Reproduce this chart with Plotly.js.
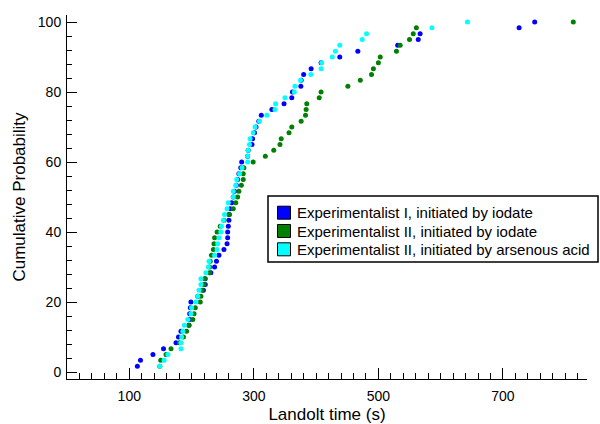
<!DOCTYPE html>
<html>
<head>
<meta charset="utf-8">
<script src="https://cdn.plot.ly/plotly-3.0.1.min.js"></script>
<style>html,body{margin:0;padding:0;background:#fff;}#chart{width:600px;height:424px;}</style>
</head>
<body>
<div id="chart"></div>
<script>
// Cumulative probability (%) shared by every series (60 observations each)
const probability = [1.67, 3.33, 5, 6.67, 8.33, 10, 11.67, 13.33, 15, 16.67,
  18.33, 20, 21.67, 23.33, 25, 26.67, 28.33, 30, 31.67, 33.33,
  35, 36.67, 38.33, 40, 41.67, 43.33, 45, 46.67, 48.33, 50,
  51.67, 53.33, 55, 56.67, 58.33, 60, 61.67, 63.33, 65, 66.67,
  68.33, 70, 71.67, 73.33, 75, 76.67, 78.33, 80, 81.67, 83.33,
  85, 86.67, 88.33, 90, 91.67, 93.33, 95, 96.67, 98.33, 100];

// Landolt times (s), sorted
const expI_iodate = [113, 118, 138, 155, 175, 179, 183, 196, 197, 197,
  198, 199, 210, 219, 222, 222, 231, 237, 240, 244,
  252, 257, 258, 258, 259, 260, 260, 262, 264.5, 267,
  269, 272, 274, 276, 279, 280.5, 290, 291, 297, 298,
  301, 303.5, 308, 312, 329, 348.5, 361, 362, 375.5, 376,
  380, 392, 408, 438, 467, 531, 564, 567, 726, 751];

const expII_iodate = [149, 150.5, 159, 167, 180.5, 187, 192, 195.5, 202, 204,
  206, 214, 215, 217, 220, 221, 229, 229, 230, 232,
  235, 236, 237, 241, 246, 252, 261, 267, 271, 274,
  276, 280, 283, 283, 284, 299, 318.5, 332, 342, 344,
  356.5, 361, 376, 383, 384, 385, 405, 408, 451, 471,
  489, 492, 500, 503, 529, 535, 550, 556, 561, 813];

const expII_arsenous = [149, 156, 162, 183, 183, 184, 186, 188.5, 194, 199,
  200, 207, 210, 212, 215, 215, 223, 227, 228, 237,
  241, 242, 244, 247, 248, 251, 253, 257, 259, 267,
  267, 271, 272.5, 277, 281, 290, 290, 291, 293, 294,
  299, 302, 309, 321, 334, 335, 350, 365, 366, 375,
  391.5, 408, 409, 426, 431, 438, 474, 481, 586, 643];

const seriesNames = ['Experimentalist I, initiated by iodate',
  'Experimentalist II, initiated by iodate',
  'Experimentalist II, initiated by arsenous acid'];
const seriesColors = ['#0000ff', '#008000', '#00ffff'];
const seriesX = [expI_iodate, expII_iodate, expII_arsenous];

const FONT = 'Liberation Sans, Arial, Helvetica, sans-serif';

const W = 600, H = 424;
const M = {l: 67, r: 13, t: 15, b: 45};
const PW = W - M.l - M.r, PH = H - M.t - M.b;
// pixel -> paper coordinate helpers (legend placement only)
const px = x => (x - M.l) / PW;
const py = y => (H - M.b - y) / PH;

const traces = seriesX.map((xs, i) => ({
  type: 'scatter', mode: 'markers', x: xs, y: probability,
  name: seriesNames[i], showlegend: false,
  marker: {color: seriesColors[i], size: 5, line: {width: 0}},
  hoverinfo: 'x+y'
}));

// Legend box drawn to match the original's compact layout
const legendBox = {left: 268, right: 598, top: 196, bottom: 262};
const rowY = [212.7, 231, 249.3];
const shapes = [{
  type: 'rect', xref: 'paper', yref: 'paper',
  x0: px(legendBox.left), x1: px(legendBox.right), y0: py(legendBox.bottom), y1: py(legendBox.top),
  line: {color: '#000', width: 1.5}, fillcolor: '#fff', layer: 'above'
}];
const annotations = [];
seriesNames.forEach((name, i) => {
  shapes.push({
    type: 'rect', xref: 'paper', yref: 'paper',
    x0: px(277.5), x1: px(290.5), y0: py(rowY[i] + 6.5), y1: py(rowY[i] - 6.5),
    line: {color: '#000', width: 1}, fillcolor: seriesColors[i], layer: 'above'
  });
  annotations.push({
    xref: 'paper', yref: 'paper', x: px(295), y: py(rowY[i]),
    xanchor: 'left', yanchor: 'middle', showarrow: false,
    text: name, font: {family: FONT, size: 15, color: '#000'}
  });
});

const layout = {
  width: W, height: H,
  margin: M,
  paper_bgcolor: '#fff', plot_bgcolor: '#fff',
  font: {family: FONT, size: 14, color: '#000'},
  showlegend: false,
  shapes: shapes,
  annotations: annotations,
  xaxis: {
    range: [0, 835], showgrid: false, zeroline: false,
    showline: true, linecolor: '#000', linewidth: 1, mirror: false,
    ticks: 'inside', ticklen: 11, tickwidth: 1, tickcolor: '#000',
    tick0: 100, dtick: 200, ticklabelstandoff: 4,
    minor: {ticks: 'inside', ticklen: 6, tick0: 0, dtick: 20, tickcolor: '#000', tickwidth: 1, showgrid: false},
    tickfont: {family: FONT, size: 14, color: '#000'},
    title: {text: 'Landolt time (s)', font: {family: FONT, size: 17, color: '#000'}, standoff: 5}
  },
  yaxis: {
    range: [-2, 102], showgrid: false, zeroline: false,
    showline: true, linecolor: '#000', linewidth: 1, mirror: false,
    ticks: 'inside', ticklen: 10, tickwidth: 1, tickcolor: '#000',
    tick0: 0, dtick: 20, ticklabelstandoff: 2,
    minor: {ticks: 'inside', ticklen: 5, tick0: 0, dtick: 4, tickcolor: '#000', tickwidth: 1, showgrid: false},
    tickfont: {family: FONT, size: 14, color: '#000'},
    title: {text: 'Cumulative Probability', font: {family: FONT, size: 17, color: '#000'}, standoff: 7}
  }
};

Plotly.newPlot('chart', traces, layout, {staticPlot: true, displayModeBar: false});
</script>
</body>
</html>
